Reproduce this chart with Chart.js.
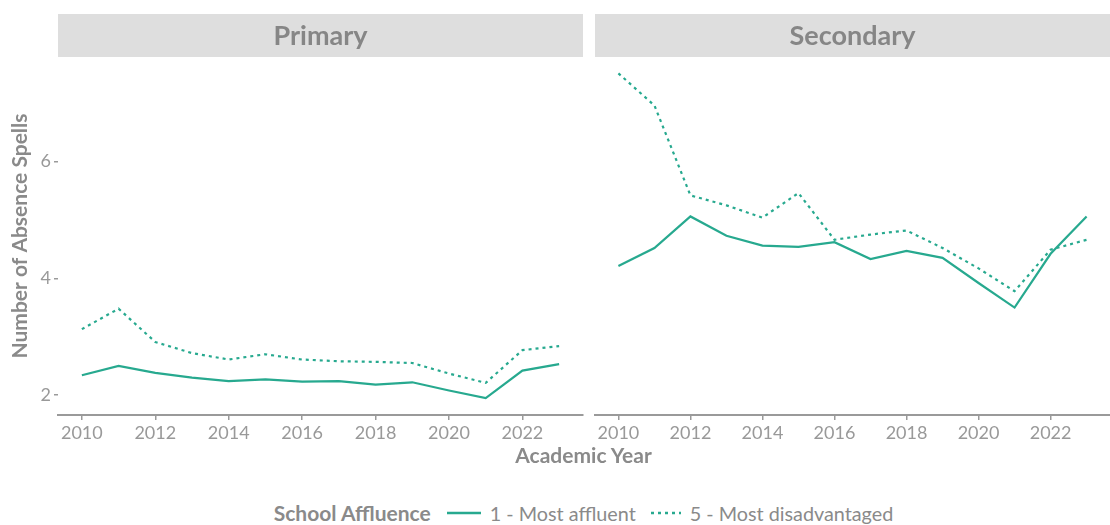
<!DOCTYPE html>
<html>
<head>
<meta charset="utf-8">
<script src="https://cdn.jsdelivr.net/npm/chart.js@4"></script>
<style>
  body { margin: 0; background: #fff; font-family: Lato, sans-serif; }
  #wrap { position: relative; width: 1110px; height: 525px; }
  #c1 { position: absolute; left: 0; top: 0; }
  #c2 { position: absolute; left: 588px; top: 0; }
  #xtitle { position: absolute; left: 57px; width: 1053px; top: 442px; text-align: center;
            font-weight: bold; font-size: 21px; color: #8a8a8a; }
  #legend { position: absolute; left: 57px; width: 1053px; top: 500px; display: flex;
            justify-content: center; align-items: center; font-size: 19.8px; color: #8a8a8a; }
  #legend b { margin-right: 16px; font-size: 21px; }
  #legend span { margin: 0 15px 0 9px; }
  #legend span:last-child { margin-right: 0; }
</style>
</head>
<body>
<div id="wrap">
  <canvas id="c1" width="588" height="470"></canvas>
  <canvas id="c2" width="522" height="470"></canvas>
  <div id="xtitle">Academic Year</div>
  <div id="legend">
    <b>School Affluence</b>
    <svg width="34" height="4"><line x1="0" y1="2" x2="34" y2="2" stroke="#27a98f" stroke-width="2.5"/></svg>
    <span>1 - Most affluent</span>
    <svg width="30" height="4"><line x1="0" y1="2" x2="30" y2="2" stroke="#27a98f" stroke-width="2.5" stroke-dasharray="3,4"/></svg>
    <span>5 - Most disadvantaged</span>
  </div>
</div>
<script>
const years = [2010, 2011, 2012, 2013, 2014, 2015, 2016, 2017, 2018, 2019, 2020, 2021, 2022, 2023];
const xTicks = [2010, 2012, 2014, 2016, 2018, 2020, 2022];
const yTicks = [2, 4, 6];

const primaryAffluent = [2.34, 2.50, 2.38, 2.30, 2.24, 2.27, 2.23, 2.24, 2.18, 2.22, 2.08, 1.95, 2.42, 2.53];
const primaryDisadv   = [3.13, 3.48, 2.91, 2.72, 2.61, 2.70, 2.61, 2.58, 2.57, 2.55, 2.37, 2.21, 2.77, 2.84];
const secondaryAffluent = [4.21, 4.52, 5.06, 4.73, 4.56, 4.54, 4.62, 4.33, 4.47, 4.35, 3.92, 3.50, 4.42, 5.06];
const secondaryDisadv   = [7.51, 6.96, 5.42, 5.25, 5.04, 5.46, 4.66, 4.75, 4.82, 4.52, 4.17, 3.78, 4.49, 4.66];

const teal = '#27a98f';
const grey = '#8a8a8a';

function pts(vals) {
  return years.map((y, i) => ({ x: y, y: vals[i] }));
}

const stripPlugin = {
  id: 'strip',
  beforeDraw(chart, args, opts) {
    const ctx = chart.ctx;
    const a = chart.chartArea;
    ctx.save();
    ctx.fillStyle = '#dedede';
    ctx.fillRect(a.left, 14, a.right - a.left, 43);
    ctx.fillStyle = '#868686';
    ctx.font = 'bold 27px Lato';
    ctx.textAlign = 'center';
    ctx.textBaseline = 'middle';
    ctx.fillText(opts.text, (a.left + a.right) / 2, 36);
    ctx.restore();
  }
};

function makePanel(id, title, aff, dis, first) {
  new Chart(document.getElementById(id), {
    type: 'line',
    data: {
      datasets: [
        { label: '1 - Most affluent', data: pts(aff), borderColor: teal, borderWidth: 2.2,
          pointRadius: 0, tension: 0 },
        { label: '5 - Most disadvantaged', data: pts(dis), borderColor: teal, borderWidth: 2.2,
          borderDash: [3, 4], pointRadius: 0, tension: 0 }
      ]
    },
    options: {
      responsive: false,
      animation: false,
      layout: { padding: { top: 57, bottom: 25, left: first ? 0 : 7, right: first ? 5 : 0 } },
      plugins: { legend: { display: false }, tooltip: { enabled: false }, strip: { text: title } },
      scales: {
        x: {
          type: 'linear', min: 2009.35, max: 2023.65,
          afterBuildTicks: s => { s.ticks = xTicks.map(v => ({ value: v })); },
          afterFit: s => { s.height = 30; },
          grid: { drawOnChartArea: false, drawTicks: true, tickLength: 5, color: '#9a9a9a', lineWidth: 1.5 },
          border: { display: true, color: '#9a9a9a', width: 2 },
          ticks: { color: '#999', font: { family: 'Lato', size: 18 }, padding: 2, maxRotation: 0,
                   callback: v => String(v) }
        },
        y: {
          display: first,
          min: 1.66, max: 7.79,
          afterBuildTicks: s => { s.ticks = yTicks.map(v => ({ value: v })); },
          afterFit: s => { if (first) s.width = 58; },
          border: { display: false },
          grid: { drawOnChartArea: false, drawTicks: true, tickLength: 4, color: '#9a9a9a', lineWidth: 1.5 },
          ticks: { color: '#999', font: { family: 'Lato', size: 18 }, padding: 3 },
          title: { display: true, text: 'Number of Absence Spells', color: grey,
                   font: { family: 'Lato', size: 21, weight: 'bold' }, padding: { top: 8, bottom: 0 } }
        }
      }
    },
    plugins: [stripPlugin]
  });
}

makePanel('c1', 'Primary', primaryAffluent, primaryDisadv, true);
makePanel('c2', 'Secondary', secondaryAffluent, secondaryDisadv, false);
</script>
</body>
</html>
